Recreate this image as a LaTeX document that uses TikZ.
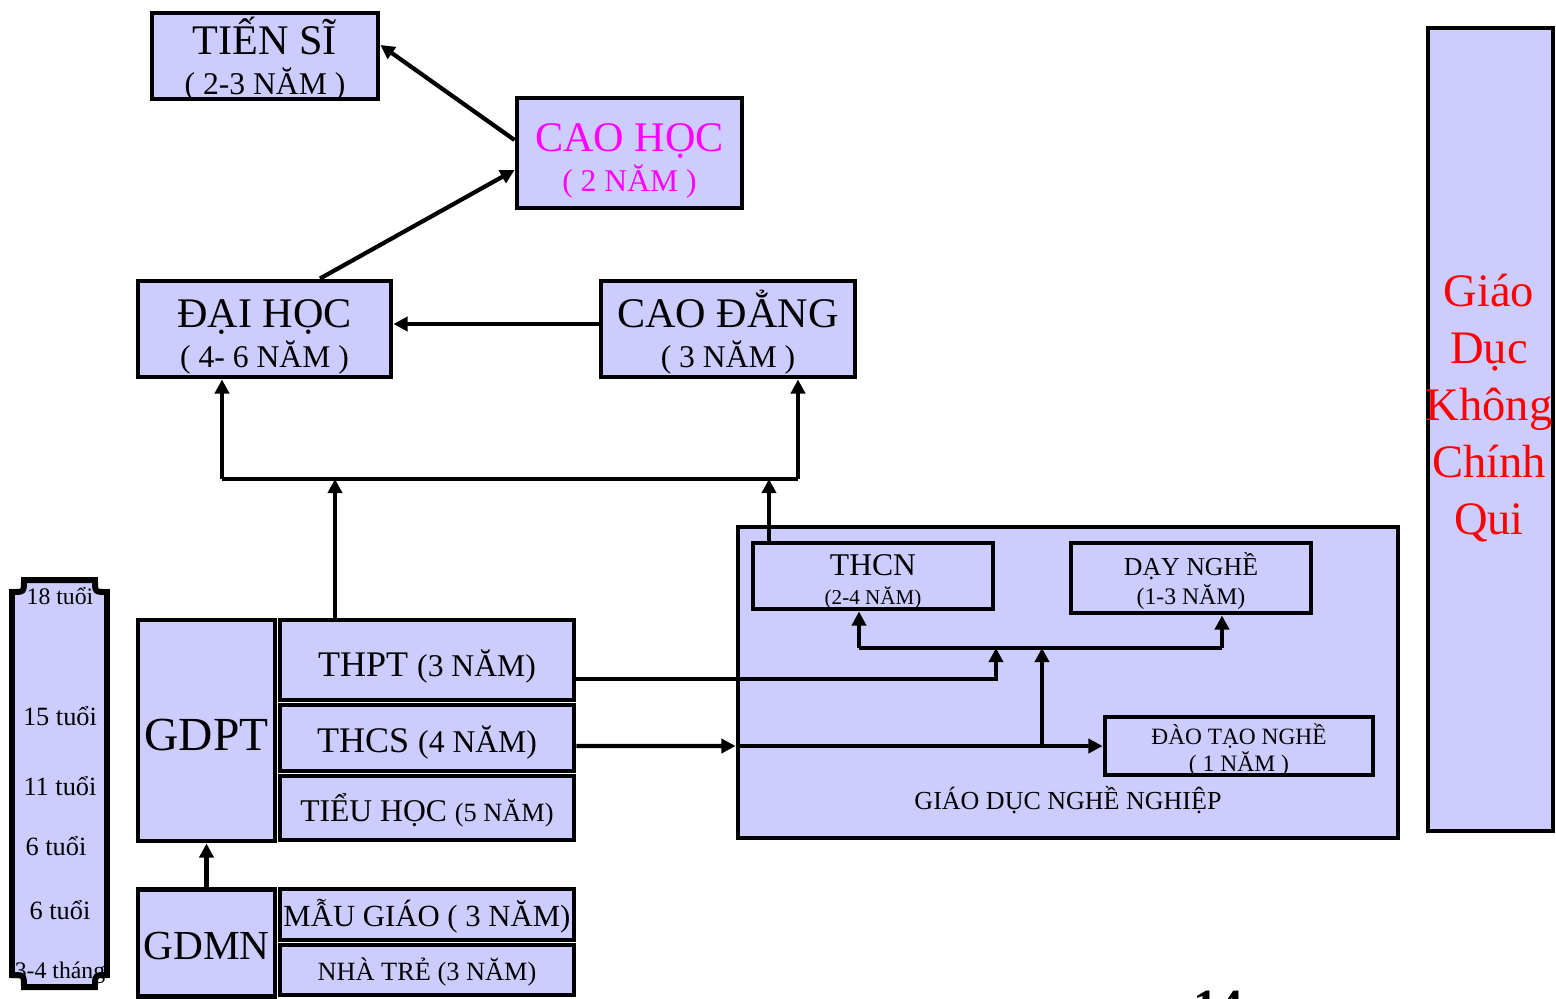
\documentclass[tikz,border=0pt]{standalone}
\usepackage{fontspec}
\setmainfont{Liberation Serif}
\usetikzlibrary{arrows.meta,positioning}
\definecolor{lavbox}{RGB}{204,204,255}
\definecolor{chmagenta}{RGB}{255,0,255}
\definecolor{kcqred}{RGB}{255,0,0}
\tikzstyle{arrow} = [line width=2.4pt,-{Triangle[length=8pt,width=8pt]},color=black]
\tikzstyle{link} = [line width=2.4pt,color=black]

\begin{document}
\begin{tikzpicture}[
    x=0.2mm, y=-0.2mm,
    box/.style={rectangle, draw=black, line width=2.8pt, fill=lavbox, inner sep=0pt, align=center},
    lvl/.style={font=\fontsize{24}{26}\selectfont, text height=44pt, text depth=0pt},
    age/.style={inner sep=0pt, font=\fontsize{15}{17}\selectfont}
]
\useasboundingbox (0,0) rectangle (1556,998);

% Post-graduate (top)
\node[box, lvl, minimum width=4.52cm, minimum height=1.72cm] (tiensi) at (265,56)
    {TIẾN SĨ\\[-3pt]\fontsize{18}{20}\selectfont ( 2-3 NĂM )};
\node[box, lvl, text=chmagenta, minimum width=4.5cm, minimum height=2.2cm] (caohoc) at (629.5,153)
    {CAO HỌC\\[-3pt]\fontsize{18}{20}\selectfont ( 2 NĂM )};

% Higher education
\node[box, lvl, minimum width=5.06cm, minimum height=1.92cm] (daihoc) at (264.5,329)
    {ĐẠI HỌC\\[-3pt]\fontsize{18}{20}\selectfont ( 4- 6 NĂM )};
\node[box, lvl, minimum width=5.08cm, minimum height=1.92cm] (caodang) at (728,329)
    {CAO ĐẲNG\\[-3pt]\fontsize{18}{20}\selectfont ( 3 NĂM )};

% General education (left)
\node[box, font=\fontsize{27}{29}\selectfont, text height=27pt, text depth=4.1pt,
    minimum width=2.74cm, minimum height=4.42cm] (gdpt) at (206.5,730.5) {GDPT};
\node[box, font=\fontsize{20.5}{22}\selectfont, text height=22pt, text depth=3.8pt,
    minimum width=5.88cm, minimum height=1.6cm] (thpt) at (427,660)
    {THPT {\fontsize{18}{20}\selectfont(3 NĂM)}};
\node[box, font=\fontsize{20.5}{22}\selectfont, text height=21pt, text depth=4pt,
    minimum width=5.88cm, minimum height=1.32cm] (thcs) at (427,738)
    {THCS {\fontsize{18}{20}\selectfont(4 NĂM)}};
\node[box, font=\fontsize{18}{20}\selectfont, text height=19.4pt, text depth=4pt,
    minimum width=5.88cm, minimum height=1.28cm] (tieuhoc) at (427,808)
    {TIỂU HỌC {\fontsize{15}{17}\selectfont(5 NĂM)}};

% Pre-school
\node[box, font=\fontsize{23.5}{25}\selectfont, text height=23pt, text depth=4.1pt,
    minimum width=2.74cm, minimum height=2.14cm] (gdmn) at (206.5,943) {GDMN};
\node[box, font=\fontsize{17.5}{19}\selectfont, text height=17.3pt, text depth=4pt,
    minimum width=5.88cm, minimum height=1.02cm] (maugiao) at (427,914.5)
    {MẪU GIÁO ( 3 NĂM)};
\node[box, font=\fontsize{15}{17}\selectfont, text height=16.2pt, text depth=4pt,
    minimum width=5.88cm, minimum height=1.0cm] (nhatre) at (427,970)
    {NHÀ TRẺ (3 NĂM)};

% Vocational education
\node[box, minimum width=13.2cm, minimum height=6.22cm] (gdnn) at (1068,682.5) {};
\node[font=\fontsize{14.8}{16}\selectfont] (gdnnt) at (1068,800) {GIÁO DỤC NGHỀ NGHIỆP};
\node[box, font=\fontsize{18}{18}\selectfont, text height=31.9pt, text depth=0pt,
    minimum width=4.8cm, minimum height=1.32cm] (thcn) at (873,576)
    {THCN\\[-2pt]\fontsize{12}{13.4}\selectfont(2-4 NĂM)};
\node[box, font=\fontsize{14.7}{16}\selectfont, text height=30.7pt, text depth=0pt,
    minimum width=4.8cm, minimum height=1.4cm] (daynghe) at (1191,578)
    {DẠY NGHỀ\\[0.8pt]\fontsize{13.5}{19}\selectfont(1-3 NĂM)};
\node[box, font=\fontsize{13.3}{15}\selectfont, text height=28.5pt, text depth=0pt,
    minimum width=5.36cm, minimum height=1.16cm] (daotao) at (1239,746)
    {ĐÀO TẠO NGHỀ\\\fontsize{13.4}{16}\selectfont( 1 NĂM )};

% Non-formal education (right)
\node[box, minimum width=2.5cm, minimum height=16.06cm] (kcq) at (1490.5,429.5) {};
\node[align=center, text=kcqred, font=\fontsize{26.5}{32.4}\selectfont] (kcqt) at (1489,408)
    {Giáo\\Dục\\Không\\Chính\\Qui};

% Age scale
\draw[line width=3.4pt, fill=lavbox] (24,580) -- (95,580) .. controls (95,592) .. (107,592)
    -- (107,975) .. controls (95,975) .. (95,987) -- (24,987) .. controls (24,975) .. (12,975)
    -- (12,592) .. controls (24,592) .. (24,580) -- cycle;
\node[age, font=\fontsize{13.5}{15}\selectfont] (a18) at (60,596) {18 tuổi};
\node[age] (a15) at (60,716) {15 tuổi};
\node[age] (a11) at (60,786) {11 tuổi};
\node[age] (a6) at (56,846) {6 tuổi};
\node[age] (a6b) at (60,910) {6 tuổi};
\node[age, font=\fontsize{13.5}{15}\selectfont] (a34) at (60,973) {3-4 tháng};

% Junctions
\coordinate (jdh) at (222,479);
\coordinate (jcd) at (798,479);
\coordinate (jl) at (859,648);
\coordinate (jr) at (1222,648);
\coordinate (jm) at (996,648);
\coordinate (jv) at (1042,746);
\coordinate (upt) at ([xshift=-1.84cm]thpt.north);
\coordinate (upn) at ([xshift=-2.08cm]thcn.north);

% Arrows
\draw[arrow] ([yshift=0.26cm]caohoc.west) -- ([yshift=0.22cm]tiensi.east);
\draw[arrow] ([xshift=1.11cm]daihoc.north) -- ([yshift=-0.34cm]caohoc.west);
\draw[arrow] ([yshift=1mm]caodang.west) -- ([yshift=1mm]daihoc.east);
\draw[link] (jdh) -- (jcd);
\draw[arrow] (jdh) -- (jdh |- daihoc.south);
\draw[arrow] (jcd) -- (jcd |- caodang.south);
\draw[arrow] (upt) -- (upt |- jdh);
\draw[arrow] (upn) -- (upn |- jdh);
\draw[arrow] (gdmn.north) -- (gdpt.south);
\draw[link] (jl) -- (jr);
\draw[arrow] (jl) -- (jl |- thcn.south);
\draw[arrow] (jr) -- (jr |- daynghe.south);
\draw[arrow] ([yshift=-0.38cm]thpt.east) -| (jm);
\draw[arrow] ([yshift=-0.16cm]thcs.east) -- (gdnn.west |- daotao.west);
\draw[arrow] (gdnn.west |- daotao.west) -- (daotao.west);
\draw[arrow] (jv) -- (jv |- jl);

% Page number
\node[font=\fontsize{28}{30}\selectfont\bfseries] (pg) at (1218,1007) {14};

\end{tikzpicture}
\end{document}
